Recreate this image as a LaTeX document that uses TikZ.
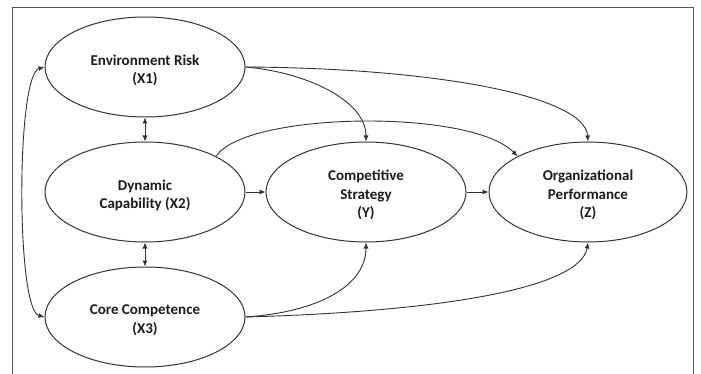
\documentclass[tikz,border=0pt]{standalone}
\usepackage{fontspec}
\setmainfont{Carlito}
\usetikzlibrary{shapes.geometric,arrows.meta}
\definecolor{ln}{HTML}{333333}
\definecolor{fr}{HTML}{555555}
\definecolor{tx}{HTML}{1A1A1A}
\tikzset{
  var/.style={ellipse,draw=ln,line width=1pt,minimum width=200pt,minimum height=100pt,inner sep=0pt},
  lbl/.style={align=center,font=\fontsize{15}{18.5}\selectfont\bfseries,text=tx,inner sep=0pt},
  link/.style={draw=ln,line width=0.9pt,-{Latex[length=6pt,width=5pt]}},
  dlink/.style={draw=ln,line width=0.9pt,{Latex[length=6pt,width=5pt]}-{Latex[length=6pt,width=5pt]}},
}
\begin{document}
\begin{tikzpicture}[x=1pt,y=-1pt]
\useasboundingbox (0,0) rectangle (701,374);
\draw[fr,line width=0.9pt] (12,380) -- (12,7) -- (693,7) -- (693,380);
\node[var] (x1) at (145,67) {};
\node[var] (x2) at (145,192) {};
\node[var] (x3) at (145,317) {};
\node[var] (y) at (366,192) {};
\node[var,minimum width=198pt] (z) at (588,192) {};
\node[lbl] (x1t) at ([yshift=-3.5pt]x1.center) {Environment Risk\\(X1)};
\node[lbl] (x2t) at ([yshift=-3.5pt]x2.center) {Dynamic\\Capability (X2)};
\node[lbl] (x3t) at ([yshift=-3pt]x3.center) {Core Competence\\(X3)};
\node[lbl] (yt) at ([yshift=-3pt]y.center) {Competitive\\Strategy\\(Y)};
\node[lbl] (zt) at ([yshift=-3pt]z.center) {Organizational\\Performance\\(Z)};
\draw[dlink] (x1.south) -- (x2.north);
\draw[dlink] (x2.south) -- (x3.north);
\draw[dlink] (x1.west) .. controls (16,75) and (16,310) .. (x3.west);
\draw[link] (x2.east) -- (y.west);
\draw[link] (y.east) -- (z.west);
\draw[link] (x1.east) .. controls (305,72) and (366,100) .. (y.north);
\draw[link] (x1.east) .. controls (430,68) and (585,95) .. (z.north);
\draw[link] (x2.north east) .. controls (245,112) and (470,108) .. (z.north west);
\draw[link] (x3.east) .. controls (320,312) and (366,285) .. (y.south);
\draw[link] (x3.east) .. controls (430,312) and (580,290) .. (z.south);
\end{tikzpicture}
\end{document}
